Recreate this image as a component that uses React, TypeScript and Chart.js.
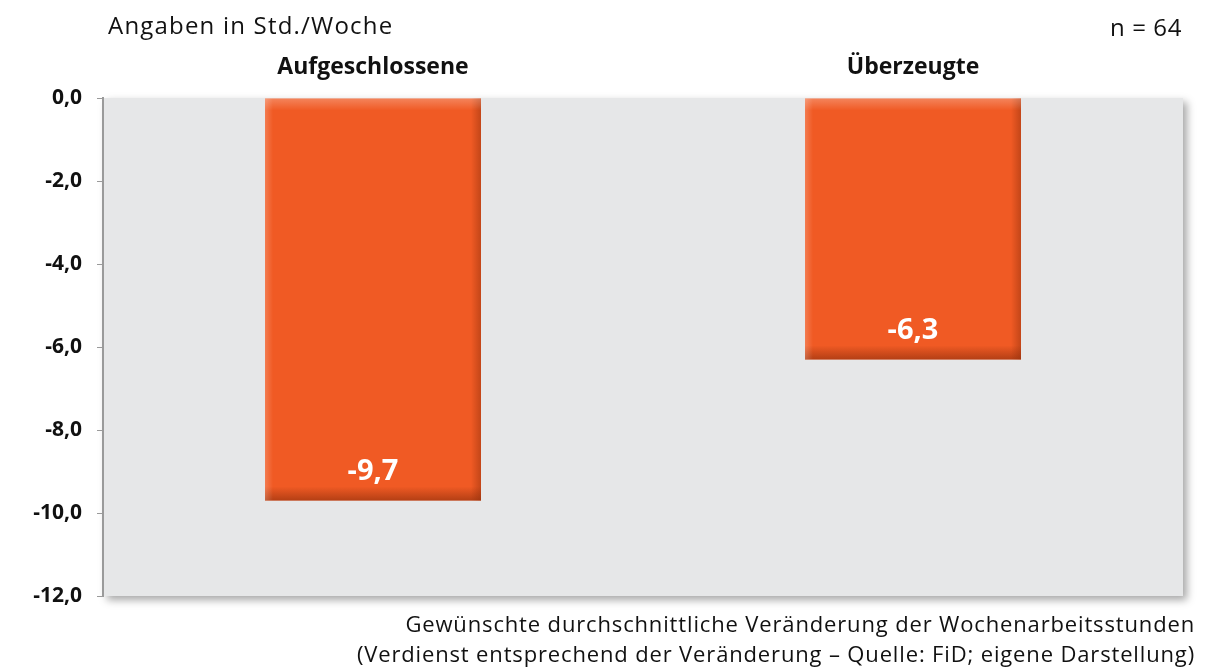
import React, { useEffect, useRef } from "react";
import { Chart, registerables } from "chart.js";

Chart.register(...registerables);

const categories = ["Aufgeschlossene", "Überzeugte"];
const values = [-9.7, -6.3];
const valueLabels = ["-9,7", "-6,3"];
const titleText = "Angaben in Std./Woche";
const sampleText = "n = 64";
const captionLines = [
  "Gewünschte durchschnittliche Veränderung der Wochenarbeitsstunden",
  "(Verdienst entsprechend der Veränderung – Quelle: FiD; eigene Darstellung)",
];

const FONT = "'Open Sans', 'Noto Sans', sans-serif";
const BAR = "#F05A24";

const plotBg = {
  id: "plotBg",
  beforeDraw(chart: any) {
    const { ctx, chartArea: a } = chart;
    ctx.save();
    ctx.shadowColor = "rgba(0,0,0,0.35)";
    ctx.shadowBlur = 8;
    ctx.shadowOffsetX = 4;
    ctx.shadowOffsetY = 4;
    ctx.fillStyle = "#E6E7E8";
    ctx.fillRect(a.left, a.top, a.right - a.left, a.bottom - a.top);
    ctx.restore();
  },
};

const barDeco = {
  id: "barDeco",
  afterDatasetsDraw(chart: any) {
    const { ctx } = chart;
    const meta = chart.getDatasetMeta(0);
    meta.data.forEach((el: any, i: number) => {
      const { x, y, base, width } = el.getProps(["x", "y", "base", "width"], true);
      const l = x - width / 2;
      const r = x + width / 2;
      const top = Math.min(y, base);
      const bot = Math.max(y, base);
      ctx.save();
      let g = ctx.createLinearGradient(0, bot - 14, 0, bot);
      g.addColorStop(0, "rgba(140,45,10,0)");
      g.addColorStop(1, "rgba(140,45,10,0.6)");
      ctx.fillStyle = g;
      ctx.fillRect(l, bot - 14, width, 14);
      g = ctx.createLinearGradient(r - 10, 0, r, 0);
      g.addColorStop(0, "rgba(140,45,10,0)");
      g.addColorStop(1, "rgba(140,45,10,0.45)");
      ctx.fillStyle = g;
      ctx.fillRect(r - 10, top, 10, bot - top);
      g = ctx.createLinearGradient(0, top, 0, top + 12);
      g.addColorStop(0, "rgba(255,255,255,0.25)");
      g.addColorStop(1, "rgba(255,255,255,0)");
      ctx.fillStyle = g;
      ctx.fillRect(l, top, width, 12);
      g = ctx.createLinearGradient(l, 0, l + 8, 0);
      g.addColorStop(0, "rgba(255,255,255,0.2)");
      g.addColorStop(1, "rgba(255,255,255,0)");
      ctx.fillStyle = g;
      ctx.fillRect(l, top, 8, bot - top);
      ctx.fillStyle = "#ffffff";
      ctx.font = `bold 29px ${FONT}`;
      ctx.textAlign = "center";
      ctx.textBaseline = "middle";
      ctx.fillText(valueLabels[i], x, bot - 29);
      ctx.restore();
    });
  },
};

export default function App() {
  const ref = useRef<HTMLCanvasElement>(null);
  useEffect(() => {
    if (!ref.current) return;
    const chart = new Chart(ref.current, {
      type: "bar",
      data: {
        labels: categories,
        datasets: [
          {
            data: values,
            backgroundColor: BAR,
            borderWidth: 0,
            barPercentage: 0.4,
            categoryPercentage: 1,
          },
        ],
      },
      plugins: [plotBg, barDeco],
      options: {
        responsive: false,
        animation: false,
        layout: { padding: { top: 40, right: 42, bottom: 72, left: 0 } },
        plugins: {
          legend: { display: false },
          tooltip: { enabled: false },
          title: { display: false },
        },
        scales: {
          x: {
            position: "top",
            grid: { display: false, drawTicks: false },
            border: { display: false },
            ticks: {
              color: "#111",
              font: { family: FONT, size: 23, weight: "bold" },
              padding: 17,
            },
            afterFit(scale: any) {
              scale.height = 58;
            },
          },
          y: {
            min: -12,
            max: 0,
            grid: {
              display: true,
              drawOnChartArea: false,
              drawTicks: true,
              tickLength: 6,
              color: "#9a9a9a",
            },
            border: { display: true, color: "#9a9a9a", width: 2 },
            ticks: {
              stepSize: 2,
              padding: 15,
              color: "#111",
              font: { family: FONT, size: 21, weight: "bold" },
              callback: (v: any) => Number(v).toFixed(1).replace(".", ","),
            },
            afterFit(scale: any) {
              scale.width = 103;
            },
          },
        },
      } as any,
    });
    return () => chart.destroy();
  }, []);

  const textStyle: React.CSSProperties = {
    position: "absolute",
    fontFamily: FONT,
    color: "#111",
    whiteSpace: "nowrap",
  };

  return (
    <div style={{ position: "absolute", left: 0, top: 0, width: 1225, height: 668, background: "#fff" }}>
      <canvas ref={ref} width={1225} height={668} style={{ position: "absolute", left: 0, top: 0 }} />
      <div style={{ ...textStyle, left: 108, top: 9, fontSize: 24, lineHeight: "32px", letterSpacing: "1.2px" }}>
        {titleText}
      </div>
      <div style={{ ...textStyle, right: 43, top: 11, fontSize: 24, lineHeight: "32px", letterSpacing: "0.6px" }}>
        {sampleText}
      </div>
      <div
        style={{
          ...textStyle,
          right: 30,
          top: 608,
          fontSize: 22,
          lineHeight: "30px",
          textAlign: "right",
          letterSpacing: "0.85px",
        }}
      >
        {captionLines.map((l, i) => (
          <div key={i}>{l}</div>
        ))}
      </div>
    </div>
  );
}
